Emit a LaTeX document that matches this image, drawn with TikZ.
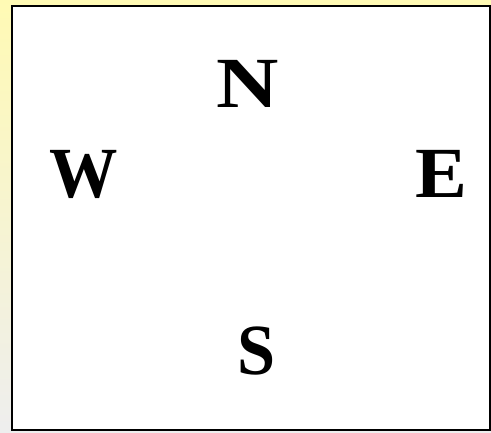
\documentclass[tikz,border=0pt]{standalone}
\usepackage{fontspec}
\setmainfont{Liberation Serif}
\definecolor{bgtop}{RGB}{255,250,180}
\definecolor{bgmid}{RGB}{248,248,236}
\definecolor{bgbot}{RGB}{238,238,238}
\begin{document}
\begin{tikzpicture}[x=1pt,y=-1pt,
  dir/.style={inner sep=0pt,font=\fontsize{72}{72}\selectfont\bfseries}]
\useasboundingbox (0,0) rectangle (491,433);
\shade[top color=bgtop,middle color=bgmid,bottom color=bgbot] (0,0) rectangle (491,433);
\draw[line width=2pt,fill=white] (12.3,6.3) rectangle (489.8,429.6);
\node[dir,xscale=1.2] (n) at (247.5,84) {N};
\node[dir,xscale=0.95] (w) at (83.5,174) {W};
\node[dir,xscale=1.08] (e) at (441.5,173.5) {E};
\node[dir,xscale=0.95] (s) at (256.5,351) {S};
\end{tikzpicture}
\end{document}
